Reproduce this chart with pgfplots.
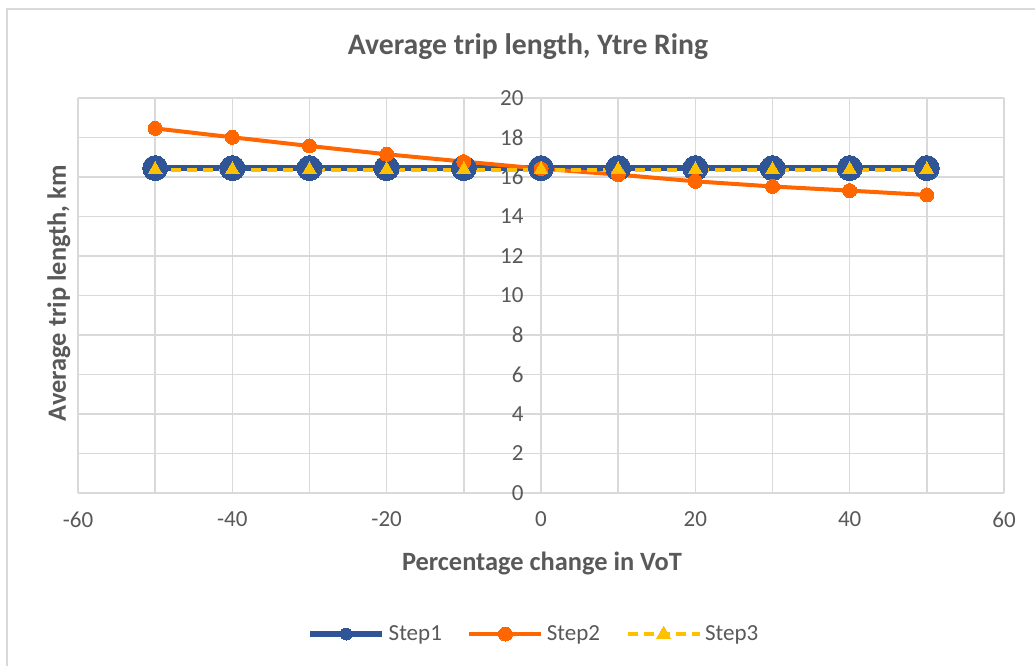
\documentclass[border=0pt]{standalone}
\usepackage{fontspec}
\setmainfont{Carlito}
\usepackage{pgfplots}
\pgfplotsset{compat=1.18}
\definecolor{txt}{HTML}{595959}
\definecolor{gridc}{HTML}{D9D9D9}
\definecolor{sblue}{HTML}{2F5597}
\definecolor{sorange}{HTML}{FF6600}
\definecolor{syellow}{HTML}{FFC000}
\begin{document}
\begin{tikzpicture}
\useasboundingbox (-78pt,-173pt) rectangle (957pt,493pt);
\fill[white] (-78pt,-173pt) rectangle (957pt,493pt);
\draw[gridc, line width=2pt] (-71pt,-173pt) -- (-71pt,484pt) -- (957pt,484pt);
\begin{axis}[
  scale only axis,
  width=926pt, height=395pt,
  xmin=-60, xmax=60, ymin=0, ymax=20,
  xtick={-60,-40,...,60},
  minor xtick={-50,-30,...,50},
  ytick={0,2,...,20},
  grid=both,
  major grid style={gridc, line width=1.5pt},
  minor grid style={gridc, line width=1.5pt},
  axis line style={draw=none},
  major tick length=0pt, minor tick length=0pt,
  /pgf/number format/assume math mode=true,
  tick label style={font=\fontsize{23}{27}\selectfont, text=txt},
  xticklabel style={yshift=-15pt},
  yticklabel style={xshift=449pt},
  title={Average trip length, Ytre Ring},
  title style={font=\fontsize{29.7}{34}\selectfont\bfseries, text=txt,
    at={(axis description cs:0.486,1.096)}, anchor=base},
  xlabel={Percentage change in VoT},
  xlabel style={font=\fontsize{26.4}{30}\selectfont\bfseries, text=txt,
    at={(axis description cs:0.501,-0.195)}, anchor=base},
  ylabel={Average trip length, km},
  ylabel style={font=\fontsize{26.4}{30}\selectfont\bfseries, text=txt,
    at={(axis description cs:-0.013,0.506)}, anchor=base},
  legend columns=3,
  legend style={draw=none, fill=none, at={(axis description cs:0.493,-0.357)},
    anchor=center, font=\fontsize{23}{27}\selectfont, text=txt,
    nodes={inner sep=3.5pt},
    /tikz/every even column/.append style={column sep=22pt}},
  legend image code/.code={\draw[mark repeat=2,mark phase=2]
    plot coordinates {(0pt,0pt)(36pt,0pt)(72pt,0pt)};},
]
\addplot[forget plot, sblue, line width=6pt, mark=*, mark size=12.5pt,
  mark options={solid, fill=sblue, draw=sblue, line width=0pt}]
  coordinates {(-50,16.45) (-40,16.45) (-30,16.45) (-20,16.45) (-10,16.45) (0,16.45)
    (10,16.45) (20,16.45) (30,16.45) (40,16.45) (50,16.45)};
\addplot[forget plot, sorange, line width=4pt, mark=*, mark size=7pt,
  mark options={solid, fill=sorange, draw=sorange, line width=0pt}]
  coordinates {(-50,18.46) (-40,18.01) (-30,17.57) (-20,17.15) (-10,16.78) (0,16.42)
    (10,16.12) (20,15.78) (30,15.52) (40,15.31) (50,15.09)};
\addplot[forget plot, syellow, line width=4pt, dash pattern=on 10pt off 6pt,
  mark=triangle*, mark size=8pt,
  mark options={solid, fill=syellow, draw=syellow, line width=0pt}]
  coordinates {(-50,16.37) (-40,16.37) (-30,16.37) (-20,16.37) (-10,16.37) (0,16.37)
    (10,16.37) (20,16.37) (30,16.37) (40,16.37) (50,16.37)};
\addlegendimage{sblue, line width=6pt, mark=*, mark size=6pt,
  mark options={solid, fill=sblue, line width=0pt}}
\addlegendentry{Step1}
\addlegendimage{sorange, line width=4pt, mark=*, mark size=7pt,
  mark options={solid, fill=sorange, line width=0pt}}
\addlegendentry{Step2}
\addlegendimage{syellow, line width=4pt, dash pattern=on 10pt off 6pt,
  mark=triangle*, mark size=8pt, mark options={solid, fill=syellow, line width=0pt}}
\addlegendentry{Step3}
\end{axis}
\end{tikzpicture}
\end{document}
